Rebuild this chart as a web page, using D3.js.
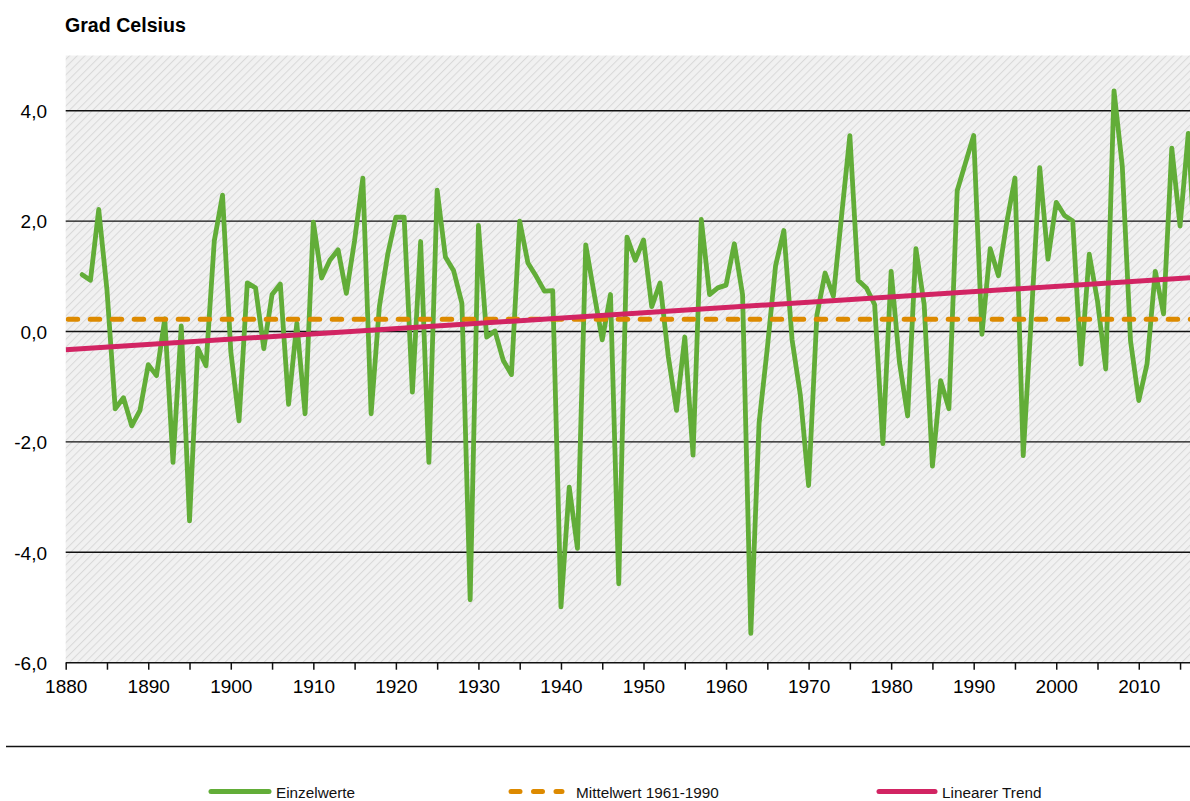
<!DOCTYPE html>
<html>
<head>
<meta charset="utf-8">
<script src="https://cdn.jsdelivr.net/npm/d3@7"></script>
<style>
  html, body { margin: 0; padding: 0; background: #fff; }
  svg { display: block; font-family: "Liberation Sans", Arial, sans-serif; }
</style>
</head>
<body>
<svg id="chart" width="1190" height="801"></svg>
<script>
// ---- Data (Germany, winter mean temperature, °C) ----
const years = d3.range(1882, 2018);
const einzelwerte = [
  1.03, 0.93, 2.21, 0.75, -1.40, -1.20, -1.71, -1.43, -0.60, -0.80,   // 1882-1891
  0.23, -2.37, 0.10, -3.43, -0.30, -0.62, 1.64, 2.47, -0.36, -1.62,   // 1892-1901
  0.88, 0.79, -0.31, 0.67, 0.86, -1.32, 0.15, -1.49, 1.98, 0.97,      // 1902-1911
  1.29, 1.48, 0.69, 1.65, 2.78, -1.49, 0.45, 1.39, 2.07, 2.07,        // 1912-1921
  -1.10, 1.63, -2.37, 2.56, 1.35, 1.10, 0.51, -4.86, 1.92, -0.10,     // 1922-1931
  0.01, -0.52, -0.78, 2.00, 1.24, 1.00, 0.73, 0.74, -4.99, -2.82,     // 1932-1941
  -3.93, 1.57, 0.70, -0.15, 0.67, -4.57, 1.71, 1.29, 1.66, 0.45,      // 1942-1951
  0.88, -0.45, -1.43, -0.10, -2.24, 2.03, 0.67, 0.79, 0.84, 1.59,     // 1952-1961
  0.67, -5.47, -1.66, -0.30, 1.19, 1.83, -0.15, -1.15, -2.79, 0.29,   // 1962-1971
  1.06, 0.64, 2.10, 3.55, 0.93, 0.79, 0.49, -2.03, 1.09, -0.55,       // 1972-1981
  -1.53, 1.50, 0.49, -2.44, -0.89, -1.40, 2.55, 3.05, 3.55, -0.05,    // 1982-1991
  1.50, 1.01, 1.97, 2.78, -2.25, 0.30, 2.97, 1.31, 2.34, 2.10,        // 1992-2001
  2.00, -0.59, 1.40, 0.55, -0.68, 4.36, 3.00, -0.17, -1.25, -0.59,    // 2002-2011
  1.09, 0.32, 3.32, 1.91, 3.59, 0.90                                  // 2012-2017
];
const mittelwert = 0.22;              // Mittelwert 1961-1990
const trendYears = [1880, 2017];
const trendValues = [-0.33, 0.98];    // Linearer Trend (end points)
const yTicks = [-6, -4, -2, 0, 2, 4];
const xMajorTicks = d3.range(1880, 2011, 10);
const xMinorTicks = d3.range(1880, 2016, 5);
const legendItems = ["Einzelwerte", "Mittelwert 1961-1990", "Linearer Trend"];

// ---- Layout ----
const svg = d3.select("#chart");
const plotLeft = 65.7, plotRight = 1200, plotTop = 55.5, plotBottom = 662.7;
const x = d3.scaleLinear().domain([1880, 2016]).range([65.7, 1188.3]);
const y = d3.scaleLinear().domain([-6, 5]).range([plotBottom, plotTop]);

const fmt = v => d3.format(".1f")(v).replace(".", ",").replace("\u2212", "-");

const colGreen = "#62ad38", colOrange = "#dd8a00", colPink = "#d22463";

// Hatch pattern
const defs = svg.append("defs");
const pat = defs.append("pattern")
  .attr("id", "hatch").attr("patternUnits", "userSpaceOnUse")
  .attr("width", 5.5).attr("height", 5.5)
  .attr("patternTransform", "rotate(45)");
pat.append("rect").attr("width", 5.5).attr("height", 5.5).attr("fill", "#f1f1f1");
pat.append("line").attr("x1", 0).attr("y1", 0).attr("x2", 0).attr("y2", 5.5)
  .attr("stroke", "#d9d9d9").attr("stroke-width", 2);

defs.append("clipPath").attr("id", "plotclip")
  .append("rect").attr("x", plotLeft).attr("y", plotTop)
  .attr("width", plotRight - plotLeft).attr("height", plotBottom - plotTop);

svg.append("rect").attr("x", plotLeft).attr("y", plotTop)
  .attr("width", plotRight - plotLeft).attr("height", plotBottom - plotTop)
  .attr("fill", "url(#hatch)");

// Title
svg.append("text").attr("x", 65).attr("y", 31.5)
  .attr("font-size", 19.6).attr("font-weight", "bold").attr("fill", "#000")
  .text("Grad Celsius");

// Gridlines
svg.append("g").selectAll("line").data(yTicks.filter(d => d > -6)).join("line")
  .attr("x1", plotLeft).attr("x2", plotRight)
  .attr("y1", d => y(d)).attr("y2", d => y(d))
  .attr("stroke", "#111").attr("stroke-width", 1.4);

// Y axis labels
const yAxis = d3.axisLeft(y).tickValues(yTicks).tickFormat(fmt).tickSize(0).tickPadding(0);
const gy = svg.append("g").attr("transform", "translate(47,0)").call(yAxis);
gy.select(".domain").remove();
gy.selectAll("text").attr("font-size", 19).attr("fill", "#000")
  .attr("font-family", "Liberation Sans, Arial, sans-serif").attr("dy", "0.36em");

// X axis
const xAxis = d3.axisBottom(x).tickValues(xMinorTicks).tickSize(7)
  .tickFormat(d => xMajorTicks.includes(d) ? d : "");
const gx = svg.append("g").attr("transform", `translate(0,${plotBottom})`).call(xAxis);
gx.select(".domain").attr("d", `M${plotLeft},0H${plotRight}`)
  .attr("stroke", "#111").attr("stroke-width", 1.5);
gx.selectAll(".tick line").attr("stroke", "#111").attr("stroke-width", 1.5);
gx.selectAll("text").attr("font-size", 19).attr("fill", "#000")
  .attr("font-family", "Liberation Sans, Arial, sans-serif").attr("dy", "1.05em");

// Series
const plot = svg.append("g").attr("clip-path", "url(#plotclip)");
const line = d3.line().x(d => x(d[0])).y(d => y(d[1]));

plot.append("path")
  .datum(years.map((yr, i) => [yr, einzelwerte[i]]))
  .attr("d", line).attr("fill", "none")
  .attr("stroke", colGreen).attr("stroke-width", 4.8)
  .attr("stroke-linejoin", "round").attr("stroke-linecap", "round");

plot.append("path")
  .datum([[1880, mittelwert], [2018, mittelwert]])
  .attr("d", line).attr("fill", "none")
  .attr("stroke", colOrange).attr("stroke-width", 5)
  .attr("stroke-dasharray", "9.5 12.5").attr("stroke-dashoffset", -2.5)
  .attr("stroke-linecap", "round");

plot.append("path")
  .datum(trendYears.map((yr, i) => [yr, trendValues[i]]))
  .attr("d", line).attr("fill", "none")
  .attr("stroke", colPink).attr("stroke-width", 5);

// Separator line
svg.append("line").attr("x1", 6).attr("x2", 1190).attr("y1", 746.5).attr("y2", 746.5)
  .attr("stroke", "#111").attr("stroke-width", 1.6);

// Legend
const legendPos = [
  {x1: 211, x2: 269, tx: 276, color: colGreen, dash: null},
  {x1: 511, x2: 562, tx: 576, color: colOrange, dash: "9 13.5"},
  {x1: 879, x2: 935, tx: 942, color: colPink, dash: null}
];
const lg = svg.append("g");
legendItems.forEach((name, i) => {
  const p = legendPos[i];
  lg.append("line").attr("x1", p.x1).attr("x2", p.x2).attr("y1", 791.5).attr("y2", 791.5)
    .attr("stroke", p.color).attr("stroke-width", 5).attr("stroke-linecap", "round")
    .attr("stroke-dasharray", p.dash);
  lg.append("text").attr("x", p.tx).attr("y", 797.5)
    .attr("font-size", 15.3).attr("fill", "#111").text(name);
});
</script>
</body>
</html>
